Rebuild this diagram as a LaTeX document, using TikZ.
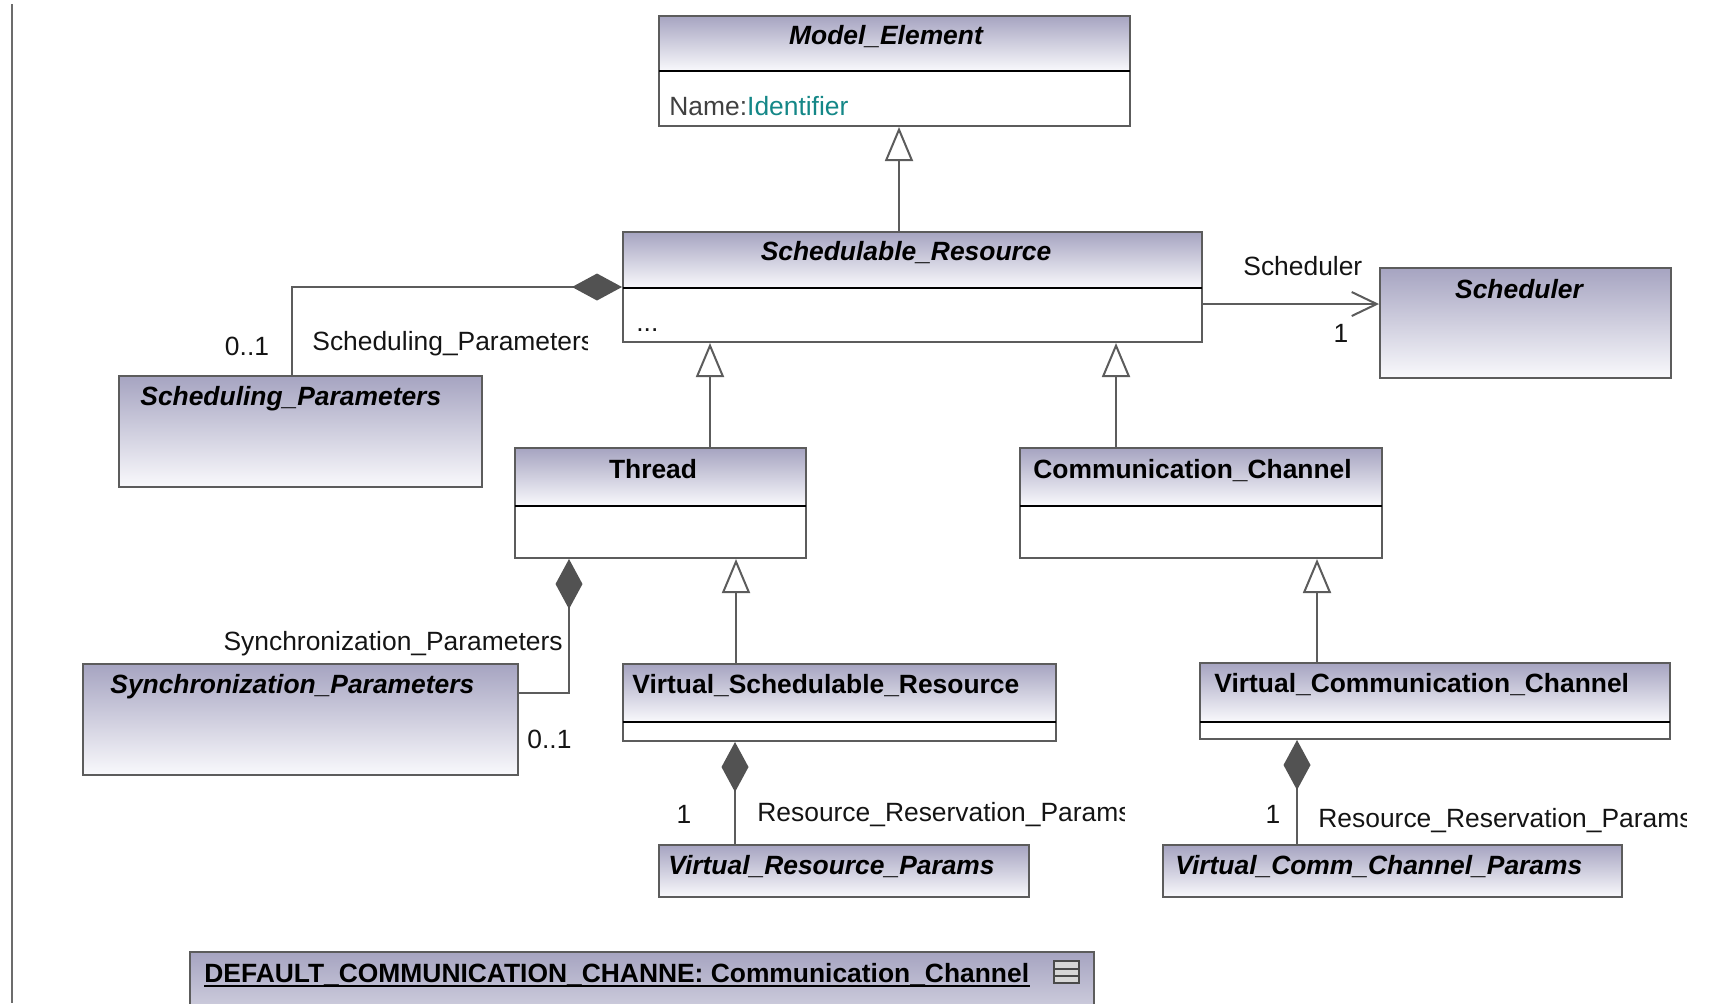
\documentclass[tikz,border=0pt]{standalone}
\usepackage{fontspec}
\setmainfont{Liberation Sans}
\usetikzlibrary{arrows.meta,calc,fit}

\definecolor{hdtop}{RGB}{166,164,193}
\definecolor{hdbot}{RGB}{249,249,252}
\definecolor{edge}{RGB}{92,92,92}
\definecolor{diam}{RGB}{82,82,82}
\definecolor{txt}{RGB}{20,20,20}
\definecolor{attrname}{RGB}{64,64,64}
\definecolor{attrtype}{RGB}{20,135,135}
\definecolor{iconfill}{RGB}{215,215,215}

% class with a shaded name compartment and a white attribute compartment
\newcommand\classbox[6]{%
  \shade[top color=hdtop,bottom color=hdbot] (#2,#3) rectangle (#4,#6);
  \node[frame, fit={(#2,#3) (#4,#5)}] (#1) {};
  \draw[divider] (#2,#6) -- (#4,#6);
}
% class drawn as one shaded compartment
\newcommand\plainbox[5]{%
  \node[frame, fit={(#2,#3) (#4,#5)}, top color=hdtop, bottom color=hdbot] (#1) {};
}

\begin{document}
\begin{tikzpicture}[x=0.5pt,y=-0.5pt,
  frame/.style={draw=edge, line width=1pt, inner sep=0pt, rectangle},
  divider/.style={draw=black, line width=1.1pt},
  ttl/.style={inner sep=0pt, text=black, font=\fontsize{13.2}{15}\selectfont\bfseries},
  ttli/.style={ttl, font=\fontsize{13.2}{15}\selectfont\bfseries\itshape},
  lbl/.style={inner sep=0pt, text=txt, font=\fontsize{13.2}{15}\selectfont},
  link/.style={draw=edge, line width=1pt},
  genl/.style={link, -{Triangle[length=17pt,width=14pt,fill=white]}},
  compl/.style={link, -{Diamond[length=25pt,width=13.5pt,fill=diam,color=diam]}},
  assocl/.style={link, -{Straight Barb[length=12.5pt,width=12pt]}}]
\useasboundingbox (0,0) rectangle (1717,1003);
\clip (0,0) rectangle (1717,1003);

% frame edge on the left
\draw[draw=edge!90, line width=1.1pt] (12,4) -- (12,1003);

% classes
\classbox{me}{659}{16}{1130}{126}{71}
\classbox{sr}{623}{232}{1202}{342}{288}
\plainbox{sch}{1380}{268}{1671}{378}
\plainbox{sp}{119}{376}{482}{487}
\classbox{th}{515}{448}{806}{558}{506}
\classbox{cc}{1020}{448}{1382}{558}{506}
\plainbox{sy}{83}{664}{518}{775}
\classbox{vsr}{623}{664}{1056}{741}{722}
\classbox{vcc}{1200}{663}{1670}{739}{722}
\plainbox{vrp}{659}{845}{1029}{897}
\plainbox{vccp}{1163}{845}{1622}{897}

% object instance at the bottom
\shade[top color=hdtop,bottom color=hdbot] (190,952) rectangle (1094,1070);
\node[frame, fit={(190,952) (1094,1070)}] (dcc) {};

% class names
\node[ttli, anchor=base] (tme) at (886,44) {Model\_Element};
\node[lbl, anchor=base west] (ame) at (669,115) {\textcolor{attrname}{Name:}\textcolor{attrtype}{Identifier}};
\node[ttli, anchor=base] (tsr) at (906,260) {Schedulable\_Resource};
\node[lbl, anchor=base west] (asr) at (636,331) {...};
\node[ttli, anchor=base] (tsch) at (1519,298) {Scheduler};
\node[ttli, anchor=base west] (tsp) at (140,405) {Scheduling\_Parameters};
\node[ttl, anchor=base] (tth) at (653,478) {Thread};
\node[ttl, anchor=base west] (tcc) at (1033,478) {Communication\_Channel};
\node[ttli, anchor=base west] (tsy) at (110,693) {Synchronization\_Parameters};
\node[ttl, anchor=base west] (tvsr) at (632,693) {Virtual\_Schedulable\_Resource};
\node[ttl, anchor=base west] (tvcc) at (1214,692) {Virtual\_Communication\_Channel};
\node[ttli, anchor=base west] (tvrp) at (668,874) {Virtual\_Resource\_Params};
\node[ttli, anchor=base west] (tvccp) at (1175,874) {Virtual\_Comm\_Channel\_Params};

% instance name, underlined, and compartment icon
\node[ttl, anchor=base west] (tdcc) at (204,982) {DEFAULT\_COMMUNICATION\_CHANNE: Communication\_Channel};
\draw[black, line width=1.2pt] ([yshift=-2pt]tdcc.base west) -- ([yshift=-2pt]tdcc.base east);
\draw[draw=edge!80!black, line width=1pt, fill=iconfill] (1054,961) rectangle (1079,983);
\draw[draw=edge!80!black, line width=1pt] (1054,968.5) -- (1079,968.5) (1054,976) -- (1079,976);

% attachment points of the connectors
\coordinate (xme) at (899,0);
\coordinate (xsp) at (292,0);
\coordinate (ysch) at (0,304);
\coordinate (xth) at (710,0);
\coordinate (xcc) at (1116,0);
\coordinate (csy) at (569,693);
\coordinate (xvsr) at (736,0);
\coordinate (xvcc) at (1317,0);
\coordinate (xvrp) at (735,0);
\coordinate (xvccp) at (1297,0);

% generalizations
\draw[genl] (sr.north -| xme) -- (me.south -| xme);
\draw[genl] (th.north -| xth) -- (sr.south -| xth);
\draw[genl] (cc.north -| xcc) -- (sr.south -| xcc);
\draw[genl] (vsr.north -| xvsr) -- (th.south -| xvsr);
\draw[genl] (vcc.north -| xvcc) -- (cc.south -| xvcc);

% compositions
\draw[compl] (sp.north -| xsp) |- (sr.west);
\draw[compl] (sy.east |- csy) -| (th.south -| csy);
\draw[compl] (vrp.north -| xvrp) -- (vsr.south -| xvrp);
\draw[compl] (vccp.north -| xvccp) -- (vcc.south -| xvccp);

% directed association
\draw[assocl] (sr.east |- ysch) -- (sch.west |- ysch);

% role names and multiplicities
\node[lbl, anchor=base west] (rsch) at (1243,275) {Scheduler};
\node[lbl, anchor=base] (msch) at (1341,342) {1};
\node[lbl, anchor=base] (msp) at (247,355) {0..1};
\begin{scope}
  \clip (300,320) rectangle (587,362);
  \node[lbl, anchor=base west] (rsp) at (312,350) {Scheduling\_Parameters};
\end{scope}
\node[lbl, anchor=base east] (rsy) at (563,650) {Synchronization\_Parameters};
\node[lbl, anchor=base west] (msy) at (527,748) {0..1};
\node[lbl, anchor=base] (mvrp) at (684,823) {1};
\begin{scope}
  \clip (745,790) rectangle (1124,832);
  \node[lbl, anchor=base west] (rvrp) at (757,821) {Resource\_Reservation\_Params};
\end{scope}
\node[lbl, anchor=base] (mvccp) at (1273,823) {1};
\begin{scope}
  \clip (1306,796) rectangle (1686,838);
  \node[lbl, anchor=base west] (rvccp) at (1318,827) {Resource\_Reservation\_Params};
\end{scope}
\end{tikzpicture}
\end{document}
